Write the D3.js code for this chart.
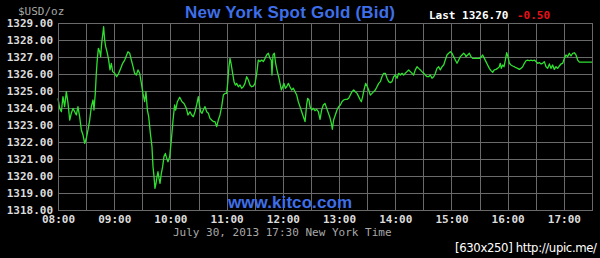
<!DOCTYPE html>
<html>
<head>
  <meta charset="UTF-8">
  <style>
    body { margin: 0; background: #000; }
    svg { display: block; background: #000; }
  </style>
</head>
<body>
<svg></svg>
<script src="https://d3js.org/d3.v7.min.js"></script>

<script>

let width = 600, height = 258;

// minutes after 08:00 New York time
const minutes = [
  0, 1.8, 3.6, 5.3, 7.1, 8.9, 10.7, 12.5, 14.2, 16.0, 17.8, 19.6, 21.3, 23.1, 24.9, 26.7, 28.5, 30.2, 32.0, 33.8,
  35.6, 37.4, 38.4, 39.8, 40.9, 42.0, 43.1, 44.5, 45.5, 46.6, 47.7, 48.7, 49.8, 50.9, 52.7, 54.1, 55.5, 56.9, 58.4, 60.5,
  62.6, 64.8, 66.9, 69.0, 71.2, 73.3, 74.7, 76.5, 78.3, 80.1, 81.8, 83.6, 85.4, 87.2, 89.0, 90.7, 92.5, 93.9, 95.4, 96.8,
  98.6, 100.3, 101.4, 102.5, 103.5, 104.6, 105.7, 106.7, 107.8, 108.9, 110.3, 111.7, 113.1, 114.6, 116.0, 117.4, 119.2, 121.0, 122.8, 124.5,
  125.6, 127.4, 129.9, 132.4, 134.5, 137.0, 138.8,
  140.9, 142.7, 144.5, 146.2, 148.0, 149.8, 150.9, 152.3, 153.7, 155.1, 156.9, 158.7, 160.5, 162.2, 164.0, 165.8, 167.6, 169.4, 171.1, 172.9,
  174.7, 176.5, 178.3, 180.0, 181.1, 182.5, 183.6, 185.0, 186.4, 187.9, 189.3, 190.7, 192.5, 194.3, 196.0, 197.8, 199.6, 201.4, 203.2, 204.9,
  206.7, 208.5, 210.3, 212.1, 213.8, 215.6, 217.4, 219.2, 221.0, 222.7, 224.5, 226.3, 227.7, 228.4, 229.5, 230.9, 232.3, 234.1, 235.5, 237.0,
  238.4, 239.8, 241.2, 242.7, 244.1, 245.9, 247.6, 249.4, 251.2, 253.0, 254.8, 256.5, 258.3, 260.1, 261.9, 263.7, 265.4, 266.5, 267.9, 269.0,
  270.8, 272.5, 274.3, 276.1, 277.9, 279.7, 281.4, 283.2, 285.0, 286.8,
  290.0, 291.8, 292.8, 294.2, 296.0, 297.8, 299.6, 301.4, 303.1, 304.9, 306.7, 308.5, 310.3, 312.0, 313.8, 315.6, 317.4, 319.2, 320.9, 322.7,
  323.8, 325.2, 326.6, 328.4, 330.2, 331.6, 333.4, 335.2, 336.9, 338.7, 340.5, 342.3, 344.1, 345.8, 347.6, 349.4, 351.2, 353.0, 354.7, 356.5,
  358.3, 360.1, 361.9, 363.6, 365.4, 367.2, 369.0, 370.7, 372.5, 374.3, 376.1, 377.9, 379.6, 381.4, 383.2, 385.0, 386.8, 388.5, 390.3, 392.1,
  393.9, 395.7, 397.4, 399.2, 401.0, 402.8, 404.5, 406.3, 408.1, 409.9, 411.7, 413.4, 415.2, 417.0, 418.8, 420.6, 422.3, 424.1, 425.9, 427.7,
  429.5, 431.2, 433.0, 434.8,
  435.5, 437.3, 439.1, 440.8, 442.6, 446.2, 449.7, 451.5, 453.3, 455.1, 456.8, 458.6, 460.4, 462.2, 464.0, 465.7, 467.5, 469.3, 471.1, 472.1,
  473.2, 474.6, 476.1, 477.5, 478.9, 480.3, 481.8, 483.5, 485.3, 487.1, 488.9, 490.6, 492.4, 494.2, 496.0, 497.8, 499.5, 501.3, 503.1, 504.9,
  506.7, 508.4, 510.2, 512.0, 513.8, 515.6, 517.3, 519.1, 520.9, 522.7, 524.5, 526.2, 528.0, 529.8, 531.6, 533.3, 535.1, 536.9, 538.7, 540.5,
  542.2, 544.0, 545.8, 547.6, 549.4, 551.1, 552.9, 554.7, 556.5, 570
];

// bid price, $USD/oz
const prices = [
  1324.57, 1323.98, 1323.78, 1324.67, 1324.08, 1324.96, 1324.27, 1323.29, 1323.69, 1323.98, 1323.78, 1323.59, 1324.08, 1323.49, 1322.71, 1322.41, 1321.92, 1322.22, 1322.71, 1323.29,
  1324.08, 1324.47, 1323.88, 1324.86, 1326.04, 1326.92, 1327.51, 1327.31, 1327.02, 1327.80, 1328.29, 1328.78, 1328.00, 1327.61, 1327.22, 1326.82, 1326.24, 1326.63, 1326.14, 1326.04,
  1325.84, 1326.04, 1326.33, 1326.63, 1326.82, 1327.12, 1327.31, 1327.22, 1326.82, 1326.43, 1326.04, 1325.94, 1326.24, 1326.04, 1325.45, 1324.86, 1324.37, 1324.96, 1323.88, 1323.49,
  1322.51, 1321.73, 1320.55, 1319.96, 1319.27, 1319.57, 1319.96, 1320.25, 1319.86, 1319.57, 1320.16, 1320.55, 1321.14, 1321.33, 1321.04, 1320.84, 1321.14, 1322.12, 1323.29, 1324.18,
  1323.88, 1324.37, 1324.63, 1324.37, 1324.27, 1323.98, 1323.59,
  1323.78, 1323.59, 1323.49, 1323.78, 1324.18, 1324.67, 1324.18, 1323.78, 1323.69, 1323.88, 1324.08, 1323.78, 1323.69, 1323.39, 1323.29, 1323.20, 1323.20, 1322.90, 1323.29, 1323.59,
  1324.08, 1324.76, 1324.86, 1324.86, 1325.45, 1326.43, 1326.92, 1326.53, 1326.04, 1325.55, 1325.35, 1325.45, 1325.25, 1325.35, 1325.16, 1325.25, 1325.45, 1325.84, 1325.65, 1325.35,
  1325.25, 1325.29, 1325.45, 1326.04, 1326.82, 1326.73, 1326.82, 1326.73, 1326.92, 1327.12, 1327.22, 1326.92, 1326.82, 1325.94, 1327.12, 1327.22, 1326.63, 1326.14, 1325.84, 1325.45,
  1325.06, 1325.25, 1325.45, 1325.16, 1325.25, 1325.45, 1325.25, 1325.06, 1325.16, 1324.96, 1324.76, 1324.37, 1324.08, 1323.78, 1323.49, 1323.20, 1324.18, 1324.57, 1324.47, 1324.08,
  1323.88, 1323.98, 1323.84, 1323.92, 1323.78, 1323.33, 1323.88, 1324.18, 1324.27, 1323.98,
  1323.49, 1323.10, 1322.75, 1323.29, 1323.59, 1323.88, 1324.08, 1324.18, 1324.37, 1324.47, 1324.51, 1324.51, 1324.57, 1324.76, 1324.96, 1325.06, 1324.96, 1324.86, 1324.67, 1324.47,
  1324.37, 1324.67, 1325.06, 1325.45, 1325.25, 1325.06, 1324.76, 1324.86, 1324.96, 1325.06, 1325.25, 1325.45, 1325.55, 1325.84, 1326.04, 1326.04, 1325.75, 1325.55, 1325.49, 1325.55,
  1325.84, 1325.94, 1325.75, 1326.04, 1325.94, 1326.04, 1325.94, 1326.04, 1326.14, 1326.24, 1326.14, 1326.04, 1325.94, 1326.24, 1326.43, 1326.33, 1326.24, 1326.14, 1326.04, 1325.94,
  1325.84, 1325.84, 1325.94, 1325.75, 1325.84, 1326.04, 1326.33, 1326.43, 1326.24, 1326.43, 1326.53, 1326.82, 1327.12, 1327.22, 1327.31, 1327.22, 1327.02, 1326.82, 1326.63, 1326.82,
  1327.02, 1327.12, 1327.22, 1327.12,
  1327.02, 1327.12, 1327.22, 1327.02, 1326.92, 1326.92, 1326.92, 1326.98, 1327.12, 1326.92, 1326.73, 1326.53, 1326.33, 1326.20, 1326.10, 1326.24, 1326.27, 1326.33, 1326.43, 1326.63,
  1326.33, 1326.53, 1326.43, 1326.82, 1327.25, 1327.02, 1326.63, 1326.53, 1326.47, 1326.43, 1326.37, 1326.33, 1326.27, 1326.33, 1326.43, 1326.63, 1326.78, 1326.82, 1326.78, 1326.82,
  1326.78, 1326.82, 1326.73, 1326.63, 1326.67, 1326.59, 1326.63, 1326.73, 1326.43, 1326.33, 1326.59, 1326.33, 1326.53, 1326.27, 1326.43, 1326.33, 1326.47, 1326.59, 1326.63, 1326.92,
  1327.12, 1327.02, 1327.22, 1327.06, 1327.22, 1327.25, 1327.12, 1326.82, 1326.70, 1326.70
];

const timeLabels = ["08:00", "09:00", "10:00", "11:00", "12:00", "13:00", "14:00", "15:00", "16:00", "17:00"];
const priceLabels = ["1318.00", "1319.00", "1320.00", "1321.00", "1322.00", "1323.00",
                     "1324.00", "1325.00", "1326.00", "1327.00", "1328.00", "1329.00"];
const lastPrice = "1326.70";
const change = "-0.50";

let svg = d3.select("svg")
    .attr("width", width)
    .attr("height", height)
    .attr("viewBox", "0 0 " + width + " " + height);

let plotLeft = 58, plotRight = 592, plotTop = 23, plotBottom = 210;

var x = d3.scaleLinear().domain([0, 570]).range([plotLeft, plotRight]);
var y = d3.scaleLinear().domain([1318, 1329]).range([plotBottom, plotTop]);

var hm = function(m) {
    return d3.format("02")(8 + Math.floor(m / 60)) + ":" + d3.format("02")(m % 60);
};

// grid: every half hour and every dollar
var halfHours = d3.range(0, 571, 30);
var priceVals = priceLabels.map(Number);

svg.append("g")
    .attr("transform", "translate(0," + plotBottom + ")")
    .call(d3.axisBottom(x).tickValues(halfHours).tickSize(-(plotBottom - plotTop)).tickFormat(""))
    .call(g => g.select(".domain").remove())
    .selectAll("line").attr("stroke", "#6a6a6a").attr("shape-rendering", "crispEdges");

svg.append("g")
    .attr("transform", "translate(" + plotLeft + ",0)")
    .call(d3.axisLeft(y).tickValues(priceVals).tickSize(-(plotRight - plotLeft)).tickFormat(""))
    .call(g => g.select(".domain").remove())
    .selectAll("line").attr("stroke", "#6a6a6a").attr("shape-rendering", "crispEdges");

// price labels
svg.append("g")
    .attr("transform", "translate(" + plotLeft + ",0)")
    .call(d3.axisLeft(y).tickValues(priceVals).tickSize(0).tickPadding(5)
        .tickFormat((d, i) => priceLabels[i]))
    .call(g => g.select(".domain").remove())
    .selectAll("text")
    .attr("fill", "#dcdcdc")
    .style("font-size", "11px")
    .style("font-weight", "bold")
    .style("font-family", "DejaVu Sans Mono");

// time labels
svg.append("g")
    .attr("transform", "translate(0," + plotBottom + ")")
    .call(d3.axisBottom(x).tickValues(timeLabels.map((t, i) => i * 60)).tickSize(0).tickPadding(5)
        .tickFormat((d, i) => timeLabels[i]))
    .call(g => g.select(".domain").remove())
    .selectAll("text")
    .attr("fill", "#dcdcdc")
    .style("font-size", "11px")
    .style("font-weight", "bold")
    .style("font-family", "DejaVu Sans Mono");

// watermark inside plot
svg.append("text")
    .attr("x", 290).attr("y", 208)
    .attr("text-anchor", "middle")
    .attr("textLength", 124)
    .style("font-family", "Liberation Sans, Arial, sans-serif")
    .style("font-size", "17px")
    .style("font-weight", "bold")
    .attr("fill", "#3f6fe8")
    .text("www.kitco.com");

// price line
var line = d3.line()
    .x((d, i) => x(minutes[i]))
    .y(d => y(d));

svg.append("path")
    .datum(prices)
    .attr("d", line)
    .attr("fill", "none")
    .attr("stroke", "#2fe02f")
    .attr("stroke-width", 1.3)
    .attr("stroke-linejoin", "round");

// frame
svg.append("rect")
    .attr("x", plotLeft + 0.5).attr("y", plotTop + 0.5)
    .attr("width", plotRight - plotLeft).attr("height", plotBottom - plotTop)
    .attr("fill", "none")
    .attr("stroke", "#6a6a6a");

// header
svg.append("text")
    .attr("x", 18).attr("y", 15)
    .style("font-family", "DejaVu Sans Mono")
    .style("font-size", "11px")
    .attr("fill", "#a8a8a8")
    .text("$USD/oz");

svg.append("text")
    .attr("x", 290).attr("y", 18)
    .attr("text-anchor", "middle")
    .attr("textLength", 210)
    .style("font-family", "Liberation Sans, Arial, sans-serif")
    .style("font-size", "17px")
    .style("font-weight", "bold")
    .attr("fill", "#3f6fe8")
    .text("New York Spot Gold (Bid)");

svg.append("text")
    .attr("x", 429).attr("y", 19)
    .style("font-family", "DejaVu Sans Mono")
    .style("font-size", "11px")
    .style("font-weight", "bold")
    .attr("fill", "#ffffff")
    .text("Last " + lastPrice);

svg.append("text")
    .attr("x", 517).attr("y", 19)
    .style("font-family", "DejaVu Sans Mono")
    .style("font-size", "11px")
    .style("font-weight", "bold")
    .attr("fill", "#e8101a")
    .text(change);

// footer
svg.append("text")
    .attr("x", 173).attr("y", 236)
    .style("font-family", "DejaVu Sans Mono")
    .style("font-size", "11px")
    .attr("fill", "#a8a8a8")
    .text("July 30, 2013 " + hm(570) + " New York Time");

svg.append("text")
    .attr("x", 455).attr("y", 252)
    .attr("textLength", 142)
    .style("font-family", "DejaVu Sans Condensed, sans-serif")
    .style("font-size", "13px")
    .attr("fill", "#ffffff")
    .text("[630x250] http://upic.me/");

</script>

</body>
</html>
